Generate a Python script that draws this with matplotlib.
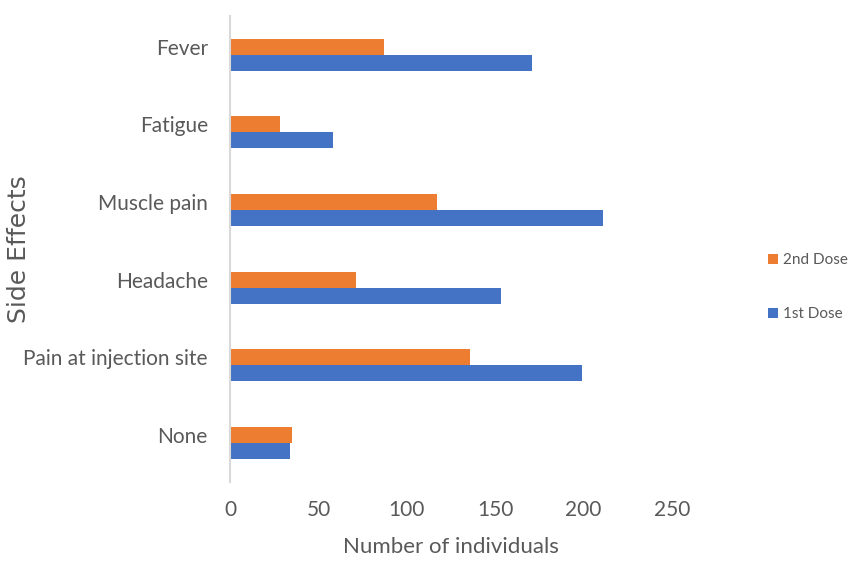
import numpy as np
import matplotlib.pyplot as plt
from matplotlib.transforms import ScaledTranslation

# side effects reported after each vaccine dose
effects = ['None', 'Pain at injection site', 'Headache', 'Muscle pain', 'Fatigue', 'Fever']
dose1 = [34, 199, 153, 211, 58, 171]
dose2 = [35, 136, 71, 117, 28, 87]

blue = '#4472C4'
orange = '#ED7D31'
grey = '#595959'

plt.rcParams['font.family'] = ['Lato', 'DejaVu Sans']

fig = plt.figure(figsize=(8.51, 5.69), dpi=100)
ax = fig.add_axes([0.2703, 0.1529, 0.5194, 0.819])

y = np.arange(len(effects))
h = 0.206
b1 = ax.barh(y - h / 2, dose1, h, color=blue, label='1st Dose')
b2 = ax.barh(y + h / 2, dose2, h, color=orange, label='2nd Dose')

ax.set_xlim(0, 250)
ax.set_ylim(-0.5, len(effects) - 0.5)
ax.set_xticks([0, 50, 100, 150, 200, 250])
ax.set_yticks(y)
ax.set_yticklabels(effects)

for s in ['top', 'right', 'bottom']:
    ax.spines[s].set_visible(False)
ax.spines['left'].set_color('#D9D9D9')
ax.spines['left'].set_linewidth(1.5)

ax.tick_params(axis='both', length=0, labelsize=15, colors=grey)
ax.tick_params(axis='y', pad=16)
ax.tick_params(axis='x', pad=13)

# category names sit a little above the middle of each pair of bars
shift = ScaledTranslation(0, 0.08, fig.dpi_scale_trans)
for lab in ax.get_yticklabels():
    lab.set_transform(lab.get_transform() + shift)

ax.set_xlabel('Number of individuals', fontsize=16, color=grey, labelpad=12)
ax.set_ylabel('Side Effects', fontsize=18, color=grey,
              family=['DejaVu Sans'])
ax.yaxis.set_label_coords(-0.45, 0.5)

fig.legend([b2, b1], ['2nd Dose', '1st Dose'], loc='center left',
           bbox_to_anchor=(0.902, 0.495), frameon=False, fontsize=11,
           labelcolor=grey, handlelength=0.7, handleheight=0.7,
           handletextpad=0.3, labelspacing=2.6, borderpad=0,
           borderaxespad=0)

fig.savefig('out.png', dpi=100)
